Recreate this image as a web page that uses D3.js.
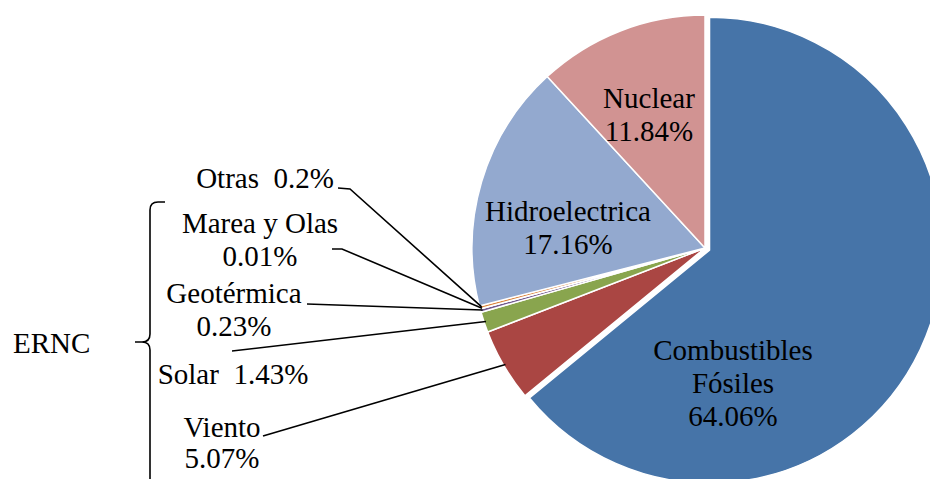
<!DOCTYPE html>
<html>
<head>
<meta charset="utf-8">
<script src="https://cdn.jsdelivr.net/npm/d3@7"></script>
<style>
  html, body { margin: 0; padding: 0; background: #fff; overflow: hidden; }
  svg { display: block; }
</style>
</head>
<body>
<svg id="chart" width="930" height="479"></svg>
<script>
// data, clockwise from 12 o'clock
var categories = ["Combustibles Fósiles", "Viento", "Solar", "Geotérmica",
                  "Marea y Olas", "Otras", "Hidroelectrica", "Nuclear"];
var values = [64.06, 5.07, 1.43, 0.23, 0.01, 0.2, 17.16, 11.84];
var colors = ["#4674A8", "#AA4643", "#89A54E", "#71588F",
              "#4198AF", "#DB843D", "#93A9CF", "#D19392"];
var groupLabel = "ERNC";

var svg = d3.select("#chart");
var cx = 705, cy = 248, radius = 233;

var pie = d3.pie().sort(null).value(function(d) { return d; });
var arcs = pie(values);
var arc = d3.arc().innerRadius(0).outerRadius(radius);

var g = svg.append("g").attr("transform", "translate(" + cx + "," + cy + ")");

// the big slice is pulled out a little
function offset(d, i) {
  var dist = i === 0 ? 5 : 0;
  var a = (d.startAngle + d.endAngle) / 2;
  return "translate(" + (Math.sin(a) * dist) + "," + (-Math.cos(a) * dist) + ")";
}

g.selectAll("path")
  .data(arcs)
  .enter().append("path")
    .attr("d", arc)
    .attr("transform", offset)
    .attr("fill", function(d, i) { return colors[i]; })
    .attr("stroke", "#fff")
    .attr("stroke-width", 1.5)
    .attr("stroke-linejoin", "round");

function pct(i) { return values[i] + "%"; }

// one <text> per line
function addText(x, y, s, anchor) {
  return svg.append("text")
    .attr("x", x)
    .attr("y", y)
    .attr("text-anchor", anchor || "middle")
    .style("font-family", "Liberation Serif")
    .style("font-size", "29px")
    .style("white-space", "pre")
    .text(s);
}

// label layout: center x, first baseline, lines
var lineH = 33;
var labels = [
  {i: 0, x: 733, y: 360, lines: ["Combustibles", "Fósiles", pct(0)]},
  {i: 6, x: 568, y: 221, lines: ["Hidroelectrica", pct(6)]},
  {i: 7, x: 649, y: 108, lines: ["Nuclear", pct(7)]},
  {i: 5, x: 265, y: 188, lines: ["Otras  " + pct(5)]},
  {i: 4, x: 260, y: 233, lines: ["Marea y Olas", pct(4)]},
  {i: 3, x: 234, y: 303, lines: ["Geotérmica", pct(3)]},
  {i: 2, x: 233, y: 384, lines: ["Solar  " + pct(2)]},
  {i: 1, x: 222, y: 437, lines: ["Viento", pct(1)], lh: 31}
];

labels.forEach(function(l) {
  l.lines.forEach(function(s, k) {
    addText(l.x, l.y + k * (l.lh || lineH), s);
  });
});

// leader lines from the small labels to their slices
function edgePoint(i) {
  var d = arcs[i];
  var a = (d.startAngle + d.endAngle) / 2;
  return [cx + Math.sin(a) * (radius - 2), cy - Math.cos(a) * (radius - 2)];
}
var leaders = [
  {i: 5, pts: [[338, 188], [350, 189]]},
  {i: 4, pts: [[332, 249], [342, 249]]},
  {i: 3, pts: [[307, 304]]},
  {i: 2, pts: [[232, 351]]},
  {i: 1, pts: [[263, 436]]}
];
var line = d3.line();
svg.append("g").selectAll("path")
  .data(leaders)
  .enter().append("path")
    .attr("d", function(d) { return line(d.pts.concat([edgePoint(d.i)])); })
    .attr("fill", "none")
    .attr("stroke", "#000")
    .attr("stroke-width", 1.6);

// curly brace grouping the renewables
svg.append("path")
  .attr("d", "M165,202 L158,202 Q150,202 150,210 L150,334 Q150,342 142,342 L135,342 " +
             "M142,342 Q150,342 150,350 L150,485")
  .attr("fill", "none")
  .attr("stroke", "#000")
  .attr("stroke-width", 1.6);

addText(13, 353, groupLabel, "start");
</script>
</body>
</html>
